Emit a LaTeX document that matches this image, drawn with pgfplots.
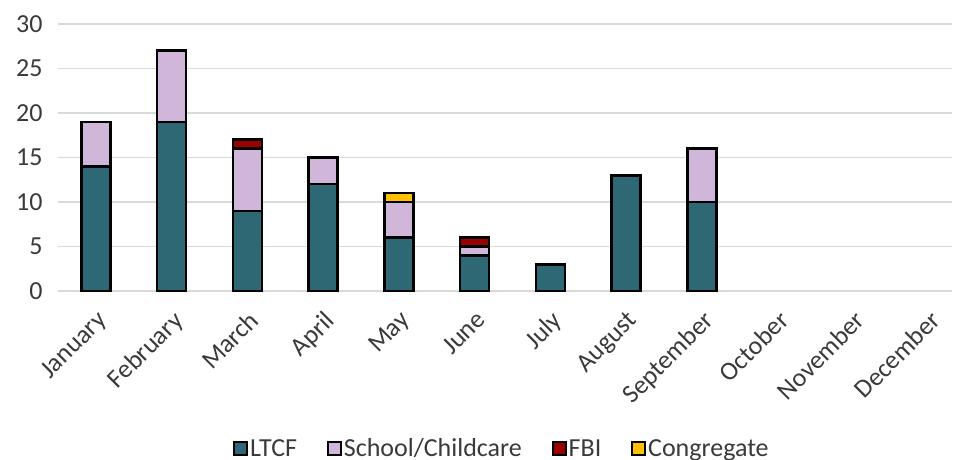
\documentclass[border=0pt]{standalone}
\usepackage{pgfplots}
\pgfplotsset{compat=1.18}
\usepackage{fontspec}
\setmainfont{Carlito}

\definecolor{ltcf}{HTML}{2E6874}
\definecolor{school}{HTML}{D0B6D8}
\definecolor{fbi}{HTML}{990000}
\definecolor{congr}{HTML}{FFC000}
\definecolor{txt}{HTML}{3A3A3A}
\definecolor{gridc}{HTML}{D9D9D9}

\newcommand{\chartfont}{\fontsize{26}{30}\selectfont}

\begin{document}
\begin{tikzpicture}
\begin{axis}[
    at={(0,0)}, anchor=south west,
    scale only axis,
    width=894pt, height=267pt,
    ybar stacked,
    bar width=29pt,
    xmin=-0.5, xmax=11.3,
    ymin=0, ymax=30,
    ytick={0,5,...,30},
    xtick={0,...,11},
    xticklabels={January,February,March,April,May,June,July,August,September,October,November,December},
    axis line style={draw=none},
    major tick length=0pt,
    ymajorgrids,
    grid style={draw=gridc, line width=1.5pt},
    tick label style={font=\chartfont, text=txt},
    /pgf/number format/assume math mode=true,
    yticklabel style={xshift=-12pt},
    % shifts act in the rotated frame
    xticklabel style={rotate=45, anchor=north east, inner sep=0pt, xshift=-13pt, yshift=-13pt},
    every axis plot/.append style={draw=black, line width=2.5pt},
    legend columns=-1,
    legend style={
        at={(axis description cs:0.4966,-0.59)}, anchor=center,
        draw=none, fill=none,
        font=\chartfont, text=txt,
        /tikz/every even column/.append style={column sep=28pt},
        nodes={inner sep=2pt},
    },
    legend image code/.code={
        \draw[#1, draw=black, line width=1.8pt] (0pt,-6.5pt) rectangle (13pt,6.5pt);
    },
]
% Jan..Sep; Oct-Dec have no cases
\addplot[fill=ltcf] coordinates {(0,14) (1,19) (2,9) (3,12) (4,6) (5,4) (6,3) (7,13) (8,10)};
\addplot[fill=school] coordinates {(0,5) (1,8) (2,7) (3,3) (4,4) (5,1) (6,0) (7,0) (8,6)};
\addplot[fill=fbi] coordinates {(0,0) (1,0) (2,1) (3,0) (4,0) (5,1) (6,0) (7,0) (8,0)};
\addplot[fill=congr] coordinates {(0,0) (1,0) (2,0) (3,0) (4,1) (5,0) (6,0) (7,0) (8,0)};
\legend{LTCF, School/Childcare, FBI, Congregate}
\end{axis}
\pgfresetboundingbox
\path (-58pt,-168pt) rectangle (896pt,291pt);
\end{tikzpicture}
\end{document}
